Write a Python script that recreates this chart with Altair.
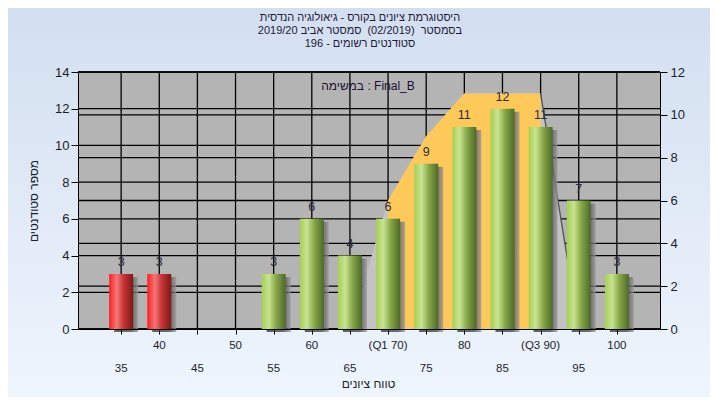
import altair as alt
import pandas as pd

# ---- data ----
categories = [35, 40, 45, 50, 55, 60, 65, 70, 75, 80, 85, 90, 95, 100]
counts = [3, 3, 0, 0, 3, 6, 4, 6, 9, 11, 12, 11, 7, 3]
red_scores = [35, 40]

curve_x = [65, 70, 75, 80, 85, 90, 95]
curve_y = [0, 6, 9, 11, 11, 11, 0]
q1, q3 = 70, 90

left_ticks = [0, 2, 4, 6, 8, 10, 12, 14]
right_ticks = [0, 2, 4, 6, 8, 10, 12]

row1_x = [40, 50, 60, 70, 80, 90, 100]
row1_labels = ["40", "50", "60", "(Q1 70)", "80", "(Q3 90)", "100"]
row2_x = [35, 45, 55, 65, 75, 85, 95]
row2_labels = ["35", "45", "55", "65", "75", "85", "95"]

NB = "\u00a0"
title_lines = [
    "היסטוגרמת ציונים בקורס - גיאולוגיה הנדסית",
    "בסמסטר" + NB + NB + "(02/2019)" + NB + NB + "סמסטר אביב 2019/20",
    "סטודנטים רשומים - 196",
]
task_label = "במשימה : Final_B"
y_title = "מספר סטודנטים"
x_title = "טווח ציונים"

# ---- layout ----
W, H = 582, 257
FONT = "Liberation Sans"
TXT = "#1c1c2c"

bars = pd.DataFrame({"x": categories, "count": counts})
bars = bars[bars["count"] > 0]
red_df = bars[bars["x"].isin(red_scores)]
green_df = bars[~bars["x"].isin(red_scores)]
curve = pd.DataFrame({"x": curve_x, "v": curve_y})
yellow_df = curve[(curve["x"] >= q1) & (curve["x"] <= q3)]
edge_df = curve[curve["x"] >= q3]
one = pd.DataFrame({"a": [0]})

xscale = alt.Scale(domain=[30, 105], nice=False, zero=False)
yL = alt.Scale(domain=[0, 14], nice=False)
yR = alt.Scale(domain=[0, 12], nice=False)

xaxis = alt.Axis(values=categories, labels=False, ticks=True, tickSize=5,
                 tickColor="black", domainColor="black", grid=False, zindex=1,
                 title=x_title, titleX=W / 2 - 1, titleY=54, titleFont=FONT,
                 titleFontSize=12, titleFontWeight="normal", titleColor=TXT,
                 titleBaseline="middle", titleAlign="center")
X = alt.X("x:Q", scale=xscale, axis=xaxis)


def YLn(field="count:Q"):
    return alt.Y(field, scale=yL, axis=None)


def grad_h(stops):
    return alt.Gradient(gradient="linear", x1=0, x2=1, y1=0, y2=0,
                        stops=[alt.GradientStop(offset=o, color=c) for o, c in stops])


bg = alt.Chart(one).mark_rect(
    fill=alt.Gradient(gradient="linear", x1=0, x2=0, y1=0, y2=1,
                      stops=[alt.GradientStop(offset=0, color="#d3dff0"),
                             alt.GradientStop(offset=1, color="#eef5fd")])
).encode(x=alt.value(-70), x2=alt.value(W + 50), y=alt.value(-64), y2=alt.value(H + 68))

plotbg = alt.Chart(one).mark_rect(fill="#b4b4b4").encode(
    x=alt.value(0), x2=alt.value(W), y=alt.value(0), y2=alt.value(H))

gridL = alt.Chart(pd.DataFrame({"v": left_ticks})).mark_rule(color="black", strokeWidth=1.3).encode(
    y=alt.Y("v:Q", scale=yL, axis=None))
gridR = alt.Chart(pd.DataFrame({"v": right_ticks})).mark_rule(color="black", strokeWidth=1.3).encode(
    y=alt.Y("v:Q", scale=yR, axis=None))
gridV = alt.Chart(pd.DataFrame({"x": categories})).mark_rule(color="black", strokeWidth=1.3).encode(x=X)

right_axis = alt.Axis(orient="right", values=right_ticks, tickSize=7, tickColor="black",
                      domainColor="black", grid=False, title=None, labelFont=FONT,
                      labelFontSize=13, labelColor=TXT, labelPadding=3, zindex=1)
area_grey = alt.Chart(curve).mark_area(color="#c3c3c3", orient="vertical").encode(
    x=X, y=alt.Y("v:Q", scale=yR, axis=right_axis))
area_yellow = alt.Chart(yellow_df).mark_area(color="#ffc95a", orient="vertical").encode(
    x=X, y=alt.Y("v:Q", scale=yR, axis=None))
edge_line = alt.Chart(edge_df).mark_line(color="#505050", strokeWidth=1.3).encode(
    x=X, y=alt.Y("v:Q", scale=yR, axis=None))

shadow = alt.Chart(bars).mark_bar(
    orient="vertical", size=24, xOffset=5, yOffset=3, y2Offset=3, opacity=0.75,
    color=grad_h([(0, "#303030"), (0.7, "#404040"), (1, "#9a9a9a")])
).encode(x=X, y=YLn())

red_bars = alt.Chart(red_df).mark_bar(
    orient="vertical", size=24,
    color=grad_h([(0, "#ff1e1e"), (0.32, "#f27878"), (0.6, "#c83434"), (1, "#7e1818")])
).encode(x=X, y=YLn())

left_axis = alt.Axis(orient="left", values=left_ticks, tickSize=7, tickColor="black",
                     domainColor="black", grid=False, labelFont=FONT, labelFontSize=13,
                     labelColor=TXT, labelPadding=2, zindex=1, title=y_title, titleX=-45,
                     titleY=H / 2, titleAngle=-90, titleAlign="center",
                     titleBaseline="middle", titleFont=FONT, titleFontSize=12,
                     titleFontWeight="normal", titleColor=TXT)
green_bars = alt.Chart(green_df).mark_bar(
    orient="vertical", size=24,
    color=grad_h([(0, "#a6ce52"), (0.3, "#c8e492"), (0.6, "#88a848"), (1, "#4c6a28")])
).encode(x=X, y=alt.Y("count:Q", scale=yL, axis=left_axis))

bar_labels = alt.Chart(bars).mark_text(
    baseline="bottom", dy=-5, fontSize=12.5, font=FONT, color="#2a2a3a"
).encode(x=X, y=YLn(), text="count:Q")

row1 = alt.Chart(pd.DataFrame({"x": row1_x, "t": row1_labels})).mark_text(
    fontSize=11.5, font=FONT, color=TXT, baseline="middle"
).encode(x=X, y=alt.value(H + 17), text="t:N")
row2 = alt.Chart(pd.DataFrame({"x": row2_x, "t": row2_labels})).mark_text(
    fontSize=11.5, font=FONT, color=TXT, baseline="middle"
).encode(x=X, y=alt.value(H + 40), text="t:N")

task = alt.Chart(one).mark_text(
    text=task_label, fontSize=12, font=FONT, color="#201030", baseline="middle"
).encode(x=alt.value(290), y=alt.value(14))

title = alt.Chart(one).mark_text(
    text="\n".join(title_lines), lineBreak="\n", lineHeight=13, fontSize=11,
    font=FONT, color="#201838", baseline="middle", align="center"
).encode(x=alt.value(282), y=alt.value(-54))

chart = alt.layer(
    bg, plotbg, gridL, gridR, gridV, area_grey, area_yellow, edge_line,
    shadow, red_bars, green_bars, bar_labels, row1, row2, task, title
).resolve_scale(y="independent").resolve_axis(y="independent").properties(
    width=W, height=H,
    autosize=alt.AutoSizeParams(type="none"),
    padding={"left": 70, "top": 64, "right": 50, "bottom": 68},
).configure_view(strokeWidth=0).configure(background="#e4edf8")

chart.save("out.html", embed_options={"renderer": "svg", "actions": False})
